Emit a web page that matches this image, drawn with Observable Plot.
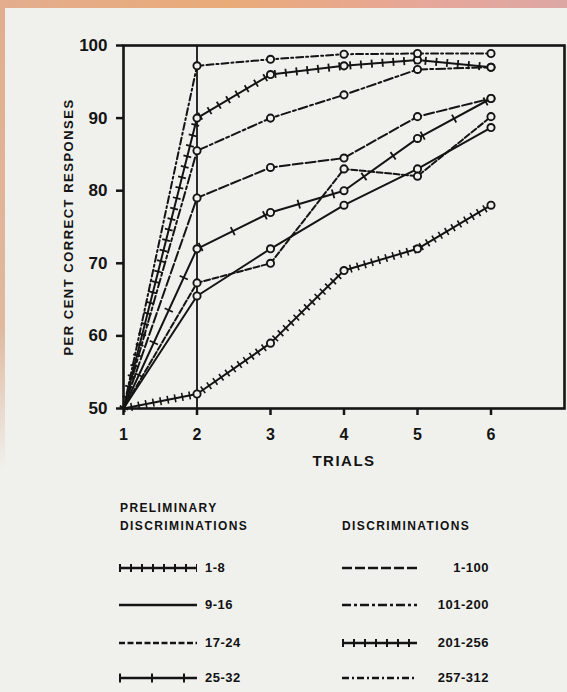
<!DOCTYPE html>
<html>
<head>
<meta charset="utf-8">
<script src="https://cdn.jsdelivr.net/npm/d3@7"></script>
<script src="https://cdn.jsdelivr.net/npm/@observablehq/plot@0.6"></script>
<style>
  html, body { margin: 0; padding: 0; }
  body { width: 567px; height: 692px; overflow: hidden; background: #f0f1ed; position: relative;
         font-family: "Liberation Sans", Arial, sans-serif; color: #121212; }
  #chart { position: absolute; left: 0; top: 0; }
  .strip-top { position: absolute; left: 0; top: 0; width: 567px; height: 8px;
               background: linear-gradient(90deg, #e3ad8e, #e9ab78 40%, #e7a79a 75%, #dca7a3); }
  .strip-left { position: absolute; left: 0; top: 0; width: 5px; height: 470px;
                background: linear-gradient(180deg, #e3ad8e, #dfb9a0 70%, rgba(220,200,180,0)); }
  .lg { position: absolute; font-weight: bold; font-size: 12px; letter-spacing: 1.4px; line-height: 14px; }
  .lab { position: absolute; font-weight: bold; font-size: 13px; letter-spacing: 0.5px; line-height: 14px; }
  svg.samp { position: absolute; overflow: visible; }
</style>
</head>
<body>
<div id="chart"></div>
<div class="strip-top"></div>
<div class="strip-left"></div>
<div id="legend"></div>
<script>
// ---- data ----
const trials = [1, 2, 3, 4, 5, 6];
const yTicks = [50, 60, 70, 80, 90, 100];
const seriesNames = ["1-8", "9-16", "17-24", "25-32", "1-100", "101-200", "201-256", "257-312"];
const prelim1_8   = [50, 52, 59, 69, 72, 78];
const prelim9_16  = [50, 65.5, 72, 78, 83, 88.7];
const prelim17_24 = [50, 67.3, 70, 83, 82, 90.2];
const prelim25_32 = [50, 72, 77, 80, 87.2, 92.7];
const disc1_100   = [50, 79, 83.2, 84.5, 90.2, 92.7];
const disc101_200 = [50, 85.5, 90, 93.2, 96.7, 97];
const disc201_256 = [50, 90, 96, 97.2, 98, 97];
const disc257_312 = [50, 97.2, 98.1, 98.8, 98.9, 98.9];
const seriesValues = [prelim1_8, prelim9_16, prelim17_24, prelim25_32, disc1_100, disc101_200, disc201_256, disc257_312];

// ---- styles ----
const INK = "#141414";
const styles = {
  "1-8":     {dash: null, cross: {w: 8, dash: "1.6,5.8"}},
  "9-16":    {dash: null},
  "17-24":   {dash: "6,2.5"},
  "25-32":   {dash: null, cross: {w: 9, dash: "1.8,34"}},
  "1-100":   {dash: "10,3"},
  "101-200": {dash: "9,3,3,3"},
  "201-256": {dash: null, cross: {w: 8, dash: "1.8,9"}},
  "257-312": {dash: "7,3,2,3"}
};

const table = seriesNames.map((name, s) =>
  trials.map((t, i) => ({series: name, trial: t, value: seriesValues[s][i]})));

const marks = [];
marks.push(Plot.ruleX([2], {y1: 50, y2: 100, stroke: INK, strokeWidth: 1.8}));
table.forEach(rows => {
  const st = styles[rows[0].series];
  marks.push(Plot.line(rows, {x: "trial", y: "value", stroke: INK, strokeWidth: 2,
    strokeDasharray: st.dash || undefined}));
  if (st.cross) {
    marks.push(Plot.line(rows, {x: "trial", y: "value", stroke: INK, strokeWidth: st.cross.w,
      strokeDasharray: st.cross.dash, strokeLinecap: "butt"}));
  }
});
table.forEach(rows => {
  marks.push(Plot.dot(rows.filter(d => d.trial > 1), {x: "trial", y: "value", r: 3.6,
    stroke: INK, strokeWidth: 1.9, fill: "#f0f1ed"}));
});
marks.push(Plot.frame({stroke: INK, strokeWidth: 2.6}));
marks.push(Plot.axisY({ticks: yTicks, tickSize: 7, tickPadding: 9, tickFormat: d => String(d),
  fontSize: 17, fontWeight: "bold", strokeWidth: 2.5, label: null}));
marks.push(Plot.axisX({ticks: trials, tickSize: 7, tickPadding: 13, tickFormat: d => String(d),
  fontSize: 16, fontWeight: "bold", strokeWidth: 2.5, label: null}));
marks.push(Plot.text(["PER CENT CORRECT RESPONSES"], {frameAnchor: "left", rotate: -90, dx: -55,
  textAnchor: "middle", fontSize: 13, fontWeight: "bold", fill: INK}));
marks.push(Plot.text(["TRIALS"], {frameAnchor: "bottom", dy: 57, fontSize: 15, fontWeight: "bold", fill: INK}));

const chart = Plot.plot({
  width: 567, height: 490,
  marginLeft: 123, marginRight: 3, marginTop: 45, marginBottom: 82,
  style: {background: "transparent", fontFamily: "'Liberation Sans', Arial, sans-serif", color: INK, overflow: "visible"},
  x: {domain: [1, 7], axis: null},
  y: {domain: [50, 100], axis: null},
  marks
});
chart.querySelectorAll("text").forEach(t => {
  if (t.textContent.startsWith("PER CENT") || t.textContent === "TRIALS") t.setAttribute("letter-spacing", "1.5");
});
document.getElementById("chart").append(chart);

// ---- legend ----
const legend = document.getElementById("legend");
function addText(cls, txt, x, y, align) {
  const d = document.createElement("div");
  d.className = cls; d.textContent = txt;
  d.style.top = (y - 7) + "px";
  if (align === "right") { d.style.right = (567 - x) + "px"; } else { d.style.left = x + "px"; }
  legend.append(d);
}
function addSample(name, x1, x2, y) {
  const st = styles[name];
  const ns = "http://www.w3.org/2000/svg";
  const svg = document.createElementNS(ns, "svg");
  svg.setAttribute("class", "samp");
  svg.setAttribute("width", x2 - x1); svg.setAttribute("height", 12);
  svg.style.left = x1 + "px"; svg.style.top = (y - 6) + "px";
  const mk = (w, dash) => {
    const l = document.createElementNS(ns, "line");
    l.setAttribute("x1", 0); l.setAttribute("x2", x2 - x1);
    l.setAttribute("y1", 6); l.setAttribute("y2", 6);
    l.setAttribute("stroke", INK); l.setAttribute("stroke-width", w);
    if (dash) l.setAttribute("stroke-dasharray", dash);
    svg.append(l);
  };
  mk(2.6, st.dash);
  if (st.cross) mk(st.cross.w, name === "25-32" ? "2,30" : "2,9");
  legend.append(svg);
}
addText("lg", "PRELIMINARY", 120, 508);
addText("lg", "DISCRIMINATIONS", 120, 526);
addText("lg", "DISCRIMINATIONS", 342, 526);
const rowsY = [568, 605, 643, 678];
seriesNames.slice(0, 4).forEach((n, i) => {
  addSample(n, 119, 197, rowsY[i]);
  addText("lab", n, 205, rowsY[i]);
});
seriesNames.slice(4).forEach((n, i) => {
  addSample(n, 342, 417, rowsY[i]);
  addText("lab", n, 489, rowsY[i], "right");
});
</script>
</body>
</html>
